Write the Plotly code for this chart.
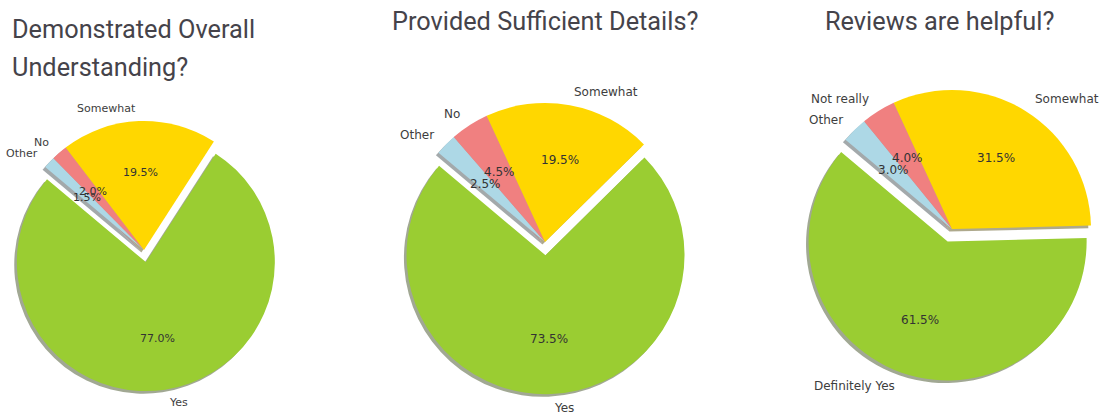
import math
import plotly.graph_objects as go

W, H = 1105, 415

# Survey answers, listed counterclockwise from the start angle
understanding_labels = ["Yes", "Somewhat", "No", "Other"]
understanding_values = [77.0, 19.5, 2.0, 1.5]

details_labels = ["Yes", "Somewhat", "No", "Other"]
details_values = [73.5, 19.5, 4.5, 2.5]

reviews_labels = ["Definitely Yes", "Somewhat", "Not really", "Other"]
reviews_values = [61.5, 31.5, 4.0, 3.0]

title_lines = [["Demonstrated Overall", "Understanding?"],
               ["Provided Sufficient Details?"],
               ["Reviews are helpful?"]]

slice_rgb = [(154, 205, 50), (255, 215, 0), (240, 128, 128), (173, 216, 230)]
START_ANGLE = 140.0  # degrees, measured counterclockwise from 3 o'clock

# pixel placement of each pie: centre, radius, explode of the first slice, font sizes
panels = [
    dict(labels=understanding_labels, values=understanding_values,
         cx=144, cy=250, r=129, pull=0.095, fs_label=11, fs_pct=11),
    dict(labels=details_labels, values=details_values,
         cx=545, cy=242, r=139, pull=0.095, fs_label=12, fs_pct=12),
    dict(labels=reviews_labels, values=reviews_values,
         cx=952, cy=229, r=139, pull=0.095, fs_label=12, fs_pct=12),
]

fig = go.Figure()
annotations = []


def domain_for(cx, cy, half):
    x0 = max(0.0, (cx - half) / W)
    x1 = min(1.0, (cx + half) / W)
    y0 = max(0.0, 1 - (cy + half) / H)
    y1 = min(1.0, 1 - (cy - half) / H)
    return dict(x=[x0, x1], y=[y0, y1])


for p in panels:
    labels, values = p["labels"], p["values"]
    cx, cy, r, pull = p["cx"], p["cy"], p["r"], p["pull"]
    half = r * (1 + pull)
    pulls = [pull] + [0] * (len(values) - 1)

    # plotly runs clockwise from `rotation`; reversing the order gives the
    # counterclockwise layout that starts at START_ANGLE
    rot = 90 - START_ANGLE
    rev_labels = labels[::-1]
    rev_values = values[::-1]
    rev_pulls = pulls[::-1]

    # soft drop shadow: darker copy of every wedge, offset down-left
    sh = min(2.6, cx - half)
    shadow_cols = [f"rgba({int(.3*c[0])},{int(.3*c[1])},{int(.3*c[2])},0.45)"
                   for c in slice_rgb][::-1]
    fig.add_trace(go.Pie(
        labels=rev_labels, values=rev_values, sort=False, direction="clockwise",
        rotation=rot, pull=rev_pulls, textinfo="none", hoverinfo="skip",
        marker=dict(colors=shadow_cols, line=dict(width=0)),
        domain=domain_for(cx - sh, cy + 2.6, half), showlegend=False,
    ))

    fig.add_trace(go.Pie(
        labels=rev_labels, values=rev_values, sort=False, direction="clockwise",
        rotation=rot, pull=rev_pulls, textinfo="none",
        hoverinfo="label+percent",
        marker=dict(colors=[f"rgb{c}" for c in slice_rgb][::-1],
                    line=dict(width=0)),
        domain=domain_for(cx, cy, half), showlegend=False,
    ))

    # wedge labels at 1.1 r, percentages at 0.6 r (shifted with the exploded wedge)
    total = sum(values)
    cum = 0.0
    for lab, v, pl in zip(labels, values, pulls):
        theta = math.radians(START_ANGLE + 360 * (cum + v / 2) / total)
        cum += v
        c, s = math.cos(theta), math.sin(theta)
        off = pl * r
        dl = 1.1 * r + off
        annotations.append(dict(
            x=(cx + dl * c) / W, y=1 - (cy - dl * s) / H,
            xref="paper", yref="paper", showarrow=False,
            text=lab, xanchor="left" if c > 0 else "right", yanchor="middle",
            font=dict(family="DejaVu Sans", size=p["fs_label"], color="#3d3d3d"),
        ))
        dp = 0.6 * r + off
        annotations.append(dict(
            x=(cx + dp * c) / W, y=1 - (cy - dp * s) / H,
            xref="paper", yref="paper", showarrow=False,
            text=f"{v / total * 100:.1f}%", xanchor="center", yanchor="middle",
            font=dict(family="DejaVu Sans", size=p["fs_pct"], color="#333333"),
        ))

title_font = dict(family="Roboto", size=25.3, color="#45434a")
# first title is left-aligned on two lines, the others centred over their pies
for i, line in enumerate(title_lines[0]):
    annotations.append(dict(x=10 / W, y=1 - (29 + 39 * i) / H,
                            xref="paper", yref="paper", showarrow=False,
                            text=line, xanchor="left", yanchor="middle",
                            font=title_font))
annotations.append(dict(x=545 / W, y=1 - 21 / H, xref="paper", yref="paper",
                        showarrow=False, text=title_lines[1][0],
                        xanchor="center", yanchor="middle", font=title_font))
annotations.append(dict(x=939 / W, y=1 - 21 / H, xref="paper", yref="paper",
                        showarrow=False, text=title_lines[2][0],
                        xanchor="center", yanchor="middle", font=title_font))

fig.update_layout(
    width=W, height=H,
    margin=dict(l=0, r=0, t=0, b=0),
    paper_bgcolor="white", plot_bgcolor="white",
    showlegend=False,
    annotations=annotations,
)

fig.write_html("out.html")
